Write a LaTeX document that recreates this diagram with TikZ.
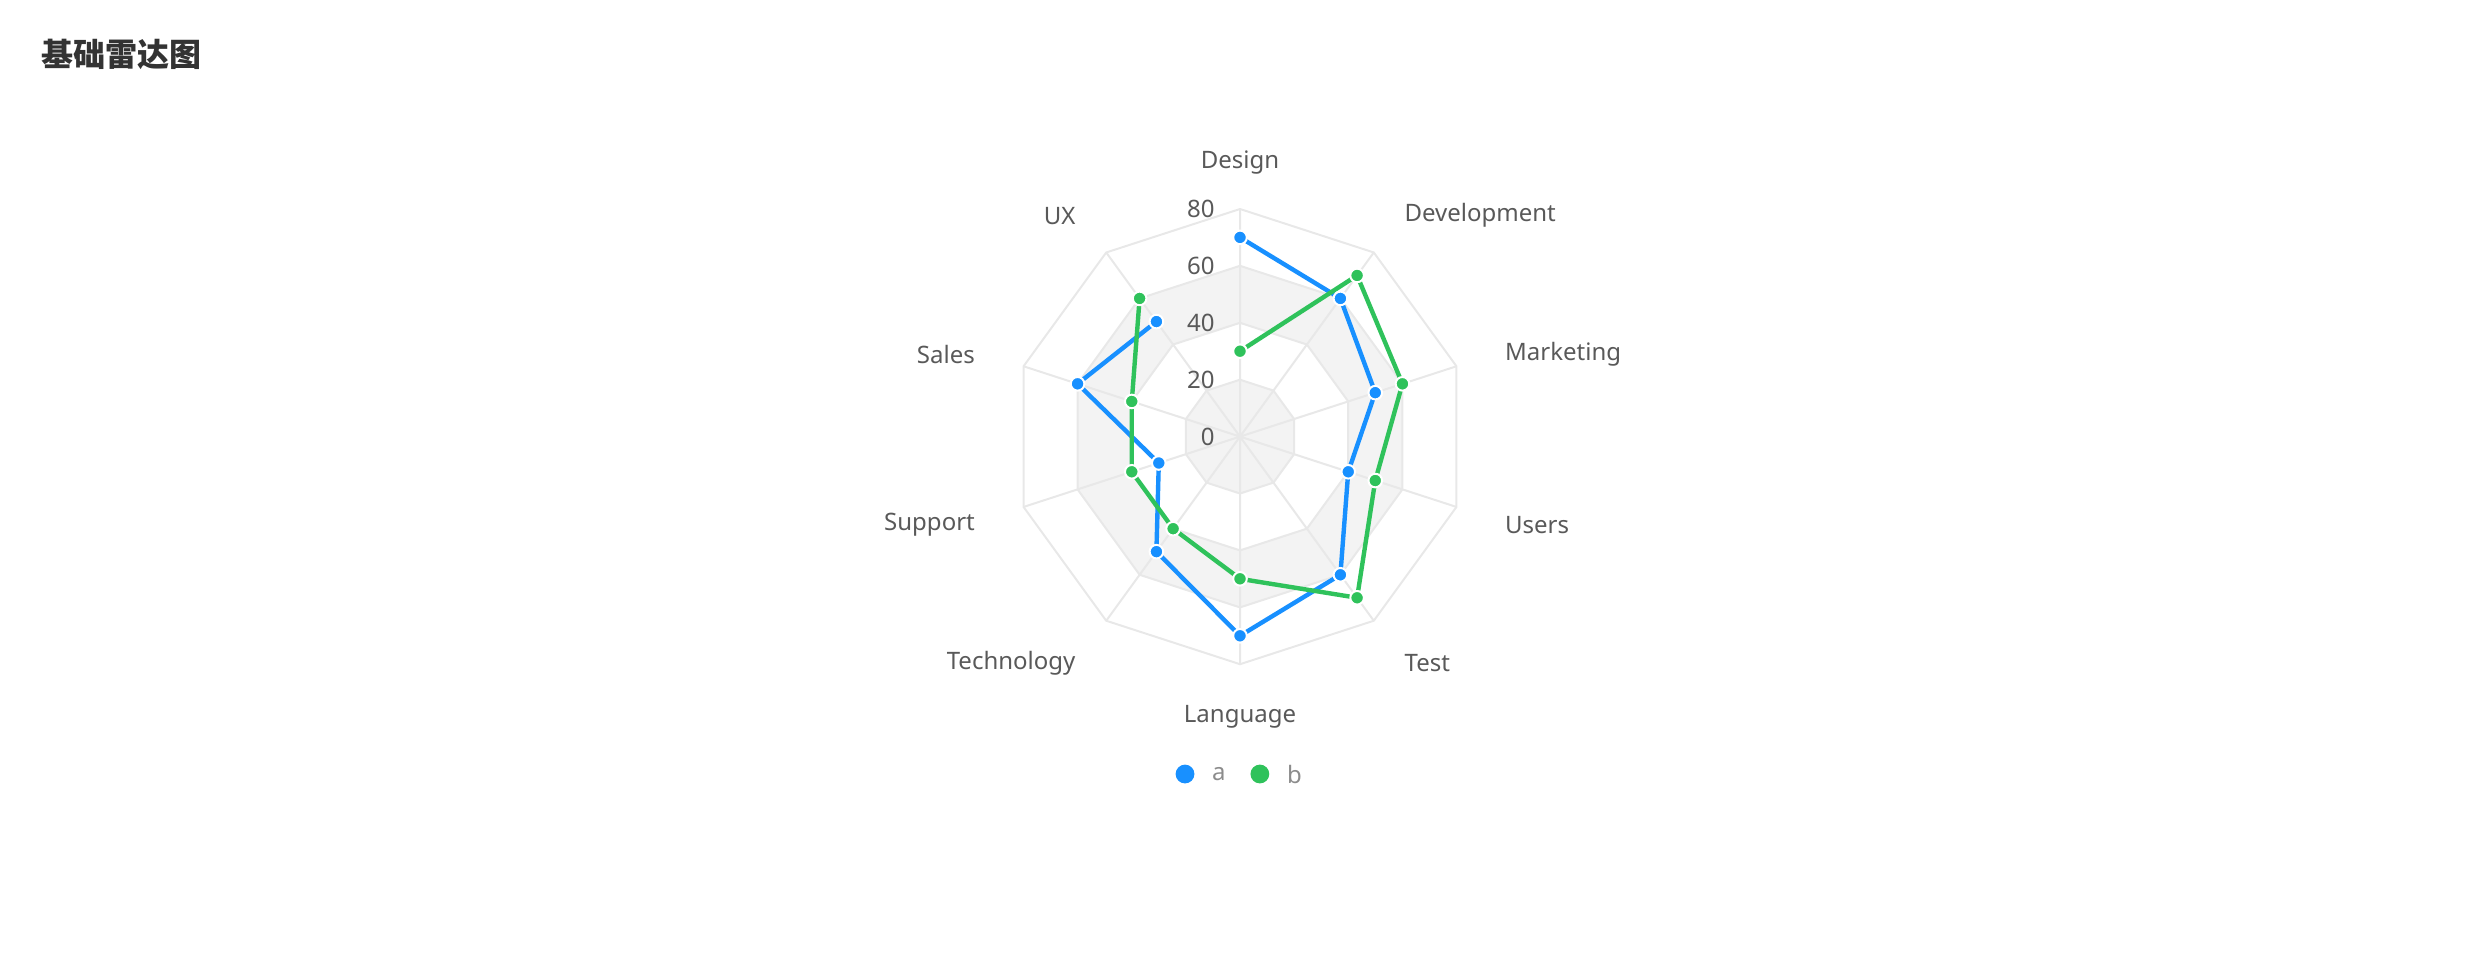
\documentclass[tikz,border=0pt]{standalone}
\usepackage{fontspec}
\setmainfont{Noto Sans}
\newfontfamily\cjk{Noto Sans CJK SC}
\usepackage{xcolor}
\usepackage{tikz}
\usetikzlibrary{positioning}

\definecolor{seriesa}{HTML}{1890FF}
\definecolor{seriesb}{HTML}{2FC25B}
\definecolor{gridline}{HTML}{E8E8E8}
\definecolor{gridfill}{HTML}{F3F3F3}
\definecolor{labeltext}{HTML}{595959}
\definecolor{legendtext}{HTML}{8C8C8C}
\definecolor{titletext}{HTML}{333333}

\begin{document}
\begin{tikzpicture}[x=1pt,y=1pt,yscale=-1,
  axislabel/.style={inner sep=0.75pt,yshift=-1.5pt,text=labeltext,font=\fontsize{12}{14}\selectfont},
  ticklabel/.style={anchor=east,inner sep=0pt,text=labeltext,font=\fontsize{12}{14}\selectfont},
  gridstroke/.style={draw=gridline,line width=1pt},
  seriesline/.style={line width=2.2pt,line join=round},
  marker/.style={draw=white,line width=1pt},
  legenddot/.style={circle,inner sep=0pt,minimum size=9.4pt},
  legendlabel/.style={inner sep=0pt,text=legendtext,font=\fontsize{12}{14}\selectfont}]
%set diagram left start at 0, and has height of 480
\useasboundingbox (0,0) rectangle (1240,480);

% Title
\node [anchor=west,inner sep=0pt,text=titletext] (title) at (20.5,27.4) {\cjk\bfseries\fontsize{16}{19}\selectfont 基础雷达图};

\begin{scope}[shift={(620,218.3)},yscale=-1]
%Bands [fill]
\fill [gridfill] (90:85.4) -- (54:85.4) -- (18:85.4) -- (-18:85.4) -- (-54:85.4) -- (-90:85.4) -- (-126:85.4) -- (-162:85.4) -- (162:85.4) -- (126:85.4) -- cycle ;
\fill [white] (90:56.9) -- (54:56.9) -- (18:56.9) -- (-18:56.9) -- (-54:56.9) -- (-90:56.9) -- (-126:56.9) -- (-162:56.9) -- (162:56.9) -- (126:56.9) -- cycle ;
\fill [gridfill] (90:28.45) -- (54:28.45) -- (18:28.45) -- (-18:28.45) -- (-54:28.45) -- (-90:28.45) -- (-126:28.45) -- (-162:28.45) -- (162:28.45) -- (126:28.45) -- cycle ;
%Rings
\draw [gridstroke] (90:113.8) -- (54:113.8) -- (18:113.8) -- (-18:113.8) -- (-54:113.8) -- (-90:113.8) -- (-126:113.8) -- (-162:113.8) -- (162:113.8) -- (126:113.8) -- cycle ;
\draw [gridstroke] (90:85.4) -- (54:85.4) -- (18:85.4) -- (-18:85.4) -- (-54:85.4) -- (-90:85.4) -- (-126:85.4) -- (-162:85.4) -- (162:85.4) -- (126:85.4) -- cycle ;
\draw [gridstroke] (90:56.9) -- (54:56.9) -- (18:56.9) -- (-18:56.9) -- (-54:56.9) -- (-90:56.9) -- (-126:56.9) -- (-162:56.9) -- (162:56.9) -- (126:56.9) -- cycle ;
\draw [gridstroke] (90:28.45) -- (54:28.45) -- (18:28.45) -- (-18:28.45) -- (-54:28.45) -- (-90:28.45) -- (-126:28.45) -- (-162:28.45) -- (162:28.45) -- (126:28.45) -- cycle ;
%Spokes
\coordinate (hub) at (0,0);
\draw [gridstroke] (hub) -- (90:113.8) (hub) -- (54:113.8) (hub) -- (18:113.8) (hub) -- (-18:113.8) (hub) -- (-54:113.8) (hub) -- (-90:113.8) (hub) -- (-126:113.8) (hub) -- (-162:113.8) (hub) -- (162:113.8) (hub) -- (126:113.8) ;

% Tick Labels
\node [ticklabel] (tick0) at (-12.5,0) {0};
\node [ticklabel] (tick20) at (-12.5,28.45) {20};
\node [ticklabel] (tick40) at (-12.5,56.9) {40};
\node [ticklabel] (tick60) at (-12.5,85.4) {60};
\node [ticklabel] (tick80) at (-12.5,113.8) {80};

% Axis Labels
\node [axislabel,anchor=center] (design) at (90:138.4) {Design};
\node [axislabel,anchor=west] (development) at (54:138.4) {Development};
\node [axislabel,anchor=west] (marketing) at (18:138.4) {Marketing};
\node [axislabel,anchor=west] (users) at (-18:138.4) {Users};
\node [axislabel,anchor=west] (test) at (-54:138.4) {Test};
\node [axislabel,anchor=center] (language) at (-90:138.4) {Language};
\node [axislabel,anchor=east] (technology) at (-126:138.4) {Technology};
\node [axislabel,anchor=east] (support) at (-162:138.4) {Support};
\node [axislabel,anchor=east] (sales) at (162:138.4) {Sales};
\node [axislabel,anchor=east] (ux) at (126:138.4) {UX};

% Series a
\coordinate (a1) at (90:99.6);
\coordinate (a2) at (54:85.4);
\coordinate (a3) at (18:71.1);
\coordinate (a4) at (-18:56.9);
\coordinate (a5) at (-54:85.4);
\coordinate (a6) at (-90:99.6);
\coordinate (a7) at (-126:71.1);
\coordinate (a8) at (-162:42.7);
\coordinate (a9) at (162:85.4);
\coordinate (a10) at (126:71.1);
% Series b
\coordinate (b1) at (90:42.7);
\coordinate (b2) at (54:99.6);
\coordinate (b3) at (18:85.4);
\coordinate (b4) at (-18:71.1);
\coordinate (b5) at (-54:99.6);
\coordinate (b6) at (-90:71.1);
\coordinate (b7) at (-126:56.9);
\coordinate (b8) at (-162:56.9);
\coordinate (b9) at (162:56.9);
\coordinate (b10) at (126:85.4);

%Lines
\draw [seriesline,seriesa] (a1) -- (a2) -- (a3) -- (a4) -- (a5) -- (a6) -- (a7) -- (a8) -- (a9) -- (a10) ;
\draw [seriesline,seriesb] (b1) -- (b2) -- (b3) -- (b4) -- (b5) -- (b6) -- (b7) -- (b8) -- (b9) -- (b10) ;
%Points
\foreach \p in {a1,a2,a3,a4,a5,a6,a7,a8,a9,a10}
  \filldraw [marker,fill=seriesa] (\p) circle (3.4) ;
\foreach \p in {b1,b2,b3,b4,b5,b6,b7,b8,b9,b10}
  \filldraw [marker,fill=seriesb] (\p) circle (3.4) ;
\end{scope}

% Legend
\node [legenddot,fill=seriesa] (keya) at (592.5,387) {};
\node [legendlabel,right=8.5pt of keya] (labela) {a};
\node [legenddot,fill=seriesb,right=12pt of labela] (keyb) {};
\node [legendlabel,right=8.5pt of keyb] (labelb) {b};
\end{tikzpicture}
\end{document}
